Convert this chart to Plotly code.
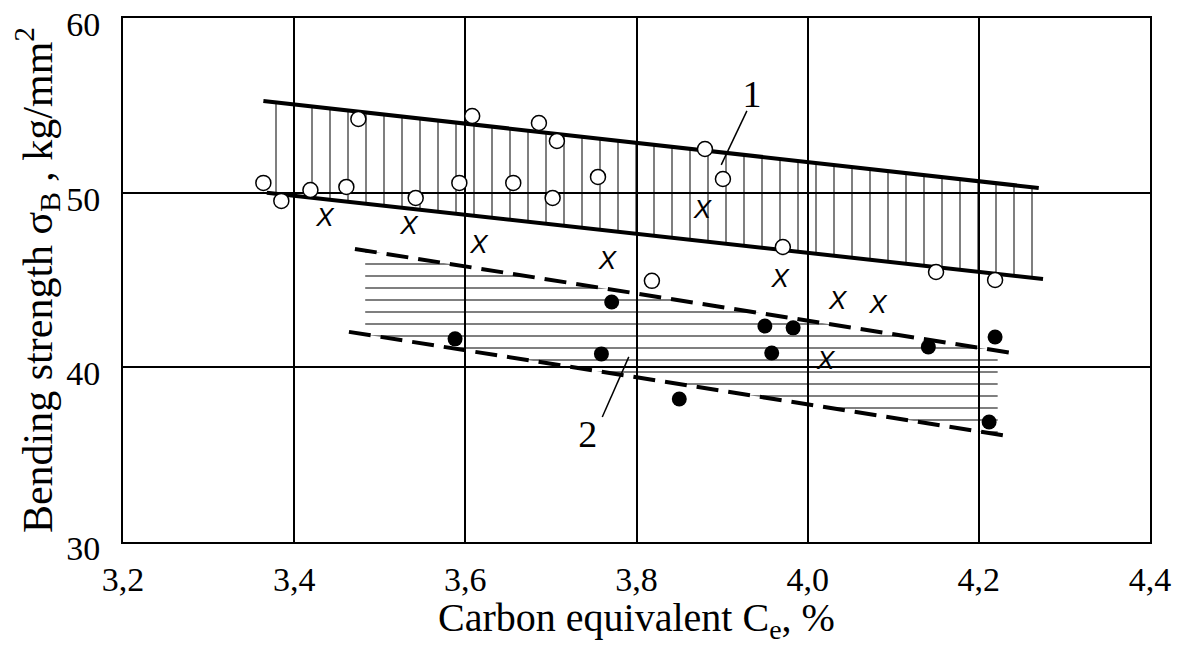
import numpy as np
import plotly.graph_objects as go

# ---- data ----
# Band 1 (upper, vertical hatching): boundary lines
band1_x = [3.364, 4.270]
band1_upper = [55.25, 50.27]
band1_lower_x = [3.368, 4.275]
band1_lower = [50.00, 45.06]

# Band 2 (lower, horizontal hatching): dashed boundary lines
band2_upper_x = [3.471, 4.239]
band2_upper = [46.78, 40.82]
band2_lower_x = [3.464, 4.234]
band2_lower = [42.03, 36.07]
band2_hatch_x = [3.483, 4.222]

# Open circles
open_x = [3.364, 3.385, 3.419, 3.461, 3.475, 3.542, 3.593, 3.608, 3.656, 3.686,
          3.707, 3.702, 3.755, 3.880, 3.901, 3.971, 3.818, 4.150, 4.219]
open_y = [50.56, 49.53, 50.15, 50.33, 54.22, 49.70, 50.56, 54.39, 50.56, 53.99,
          52.96, 49.70, 50.90, 52.50, 50.78, 46.89, 44.95, 45.46, 45.00]

# Crosses
cross_x = [3.436, 3.534, 3.616, 3.766, 3.877, 3.968, 4.035, 4.082, 4.021]
cross_y = [48.44, 47.98, 46.89, 45.98, 48.90, 45.00, 43.74, 43.46, 40.25]

# Filled circles
fill_x = [3.588, 3.771, 3.759, 3.850, 3.950, 3.983, 3.958, 4.141, 4.219, 4.212]
fill_y = [41.63, 43.74, 40.77, 38.19, 42.37, 42.26, 40.82, 41.17, 41.74, 36.87]

# Labels with leader lines
label_text = ["1", "2"]
label_x = [3.935, 3.743]
label_y = [55.45, 35.96]
leader_x0 = [3.929, 3.760]
leader_y0 = [54.68, 37.16]
leader_x1 = [3.899, 3.791]
leader_y1 = [51.59, 40.60]

x_ticks = [3.2, 3.4, 3.6, 3.8, 4.0, 4.2, 4.4]
y_ticks = [30, 40, 50, 60]

FONT = "Liberation Serif"

fig = go.Figure()

# Band 1 hatched region
poly1_x = [band1_x[0], band1_x[1], band1_lower_x[1], band1_lower_x[0], band1_x[0]]
poly1_y = [band1_upper[0], band1_upper[1], band1_lower[1], band1_lower[0], band1_upper[0]]
fig.add_trace(go.Scatter(
    x=poly1_x, y=poly1_y, mode="none", fill="toself",
    fillcolor="rgba(0,0,0,0)",
    fillpattern=dict(shape="|", size=18, solidity=0.1112, fgcolor="black",
                     bgcolor="rgba(0,0,0,0)", fillmode="overlay"),
    hoverinfo="skip", showlegend=False))

# Band 2 hatched region
hx0, hx1 = band2_hatch_x
up0 = float(np.interp(hx0, band2_upper_x, band2_upper))
up1 = float(np.interp(hx1, band2_upper_x, band2_upper))
lo0 = float(np.interp(hx0, band2_lower_x, band2_lower))
lo1 = float(np.interp(hx1, band2_lower_x, band2_lower))
fig.add_trace(go.Scatter(
    x=[hx0, hx1, hx1, hx0, hx0], y=[up0, up1, lo1, lo0, up0],
    mode="none", fill="toself", fillcolor="rgba(0,0,0,0)",
    fillpattern=dict(shape="-", size=12, solidity=0.1667, fgcolor="black",
                     bgcolor="rgba(0,0,0,0)", fillmode="overlay"),
    hoverinfo="skip", showlegend=False))

# Band 1 boundary lines
fig.add_trace(go.Scatter(x=band1_x, y=band1_upper, mode="lines",
                         line=dict(color="black", width=4), showlegend=False))
fig.add_trace(go.Scatter(x=band1_lower_x, y=band1_lower, mode="lines",
                         line=dict(color="black", width=4), showlegend=False))
# Band 2 dashed lines
fig.add_trace(go.Scatter(x=band2_upper_x, y=band2_upper, mode="lines",
                         line=dict(color="black", width=4, dash="22px,10px"), showlegend=False))
fig.add_trace(go.Scatter(x=band2_lower_x, y=band2_lower, mode="lines",
                         line=dict(color="black", width=4, dash="22px,10px"), showlegend=False))

# Leader lines
for i in range(len(label_text)):
    fig.add_trace(go.Scatter(x=[leader_x0[i], leader_x1[i]], y=[leader_y0[i], leader_y1[i]],
                             mode="lines", line=dict(color="black", width=1.5),
                             showlegend=False, hoverinfo="skip"))

# Points
fig.add_trace(go.Scatter(x=open_x, y=open_y, mode="markers",
                         marker=dict(symbol="circle", size=15, color="white",
                                     line=dict(color="black", width=1.5)),
                         showlegend=False))
fig.add_trace(go.Scatter(x=fill_x, y=fill_y, mode="markers",
                         marker=dict(symbol="circle", size=15, color="black",
                                     line=dict(color="black", width=0)),
                         showlegend=False))
fig.add_trace(go.Scatter(x=cross_x, y=cross_y, mode="text", text=["X"] * len(cross_x),
                         textposition="middle center",
                         textfont=dict(family="Liberation Sans", size=26,
                                       color="black", style="italic"),
                         showlegend=False))
# Labels
fig.add_trace(go.Scatter(x=label_x, y=label_y, mode="text", text=label_text,
                         textposition="middle center",
                         textfont=dict(family=FONT, size=38, color="black"),
                         showlegend=False))

TICKFONT = dict(family=FONT, size=34, color="black")

# the page body adds an 8 px margin, so the figure is 8 px smaller than the window
fig.update_layout(
    width=1175, height=637,
    margin=dict(l=115, r=33, t=10, b=103, autoexpand=False),
    paper_bgcolor="white", plot_bgcolor="white",
    separators=",.",
    xaxis=dict(range=[3.2, 4.4], tickvals=x_ticks, tickformat=".1f",
               ticklabelstandoff=6, automargin=False, ticklabeloverflow="allow",
               showgrid=True, gridcolor="black", gridwidth=1.5,
               showline=True, mirror=True, linecolor="black", linewidth=2,
               zeroline=False, ticks="", tickfont=TICKFONT,
               title=dict(text="Carbon equivalent C<sub>e</sub>, %",
                          font=dict(family=FONT, size=40, color="black"), standoff=0)),
    yaxis=dict(range=[30, 60], tickvals=y_ticks,
               ticklabelstandoff=14, ticklabelshift=6,
               automargin=False, ticklabeloverflow="allow",
               showgrid=True, gridcolor="black", gridwidth=1.5,
               showline=True, mirror=True, linecolor="black", linewidth=2,
               zeroline=False, ticks="", tickfont=TICKFONT,
               title=dict(text="Bending strength σ<sub>B</sub> , kg/mm<sup>2</sup>",
                          font=dict(family=FONT, size=42, color="black"), standoff=2)),
)

fig.write_html("out.html")
